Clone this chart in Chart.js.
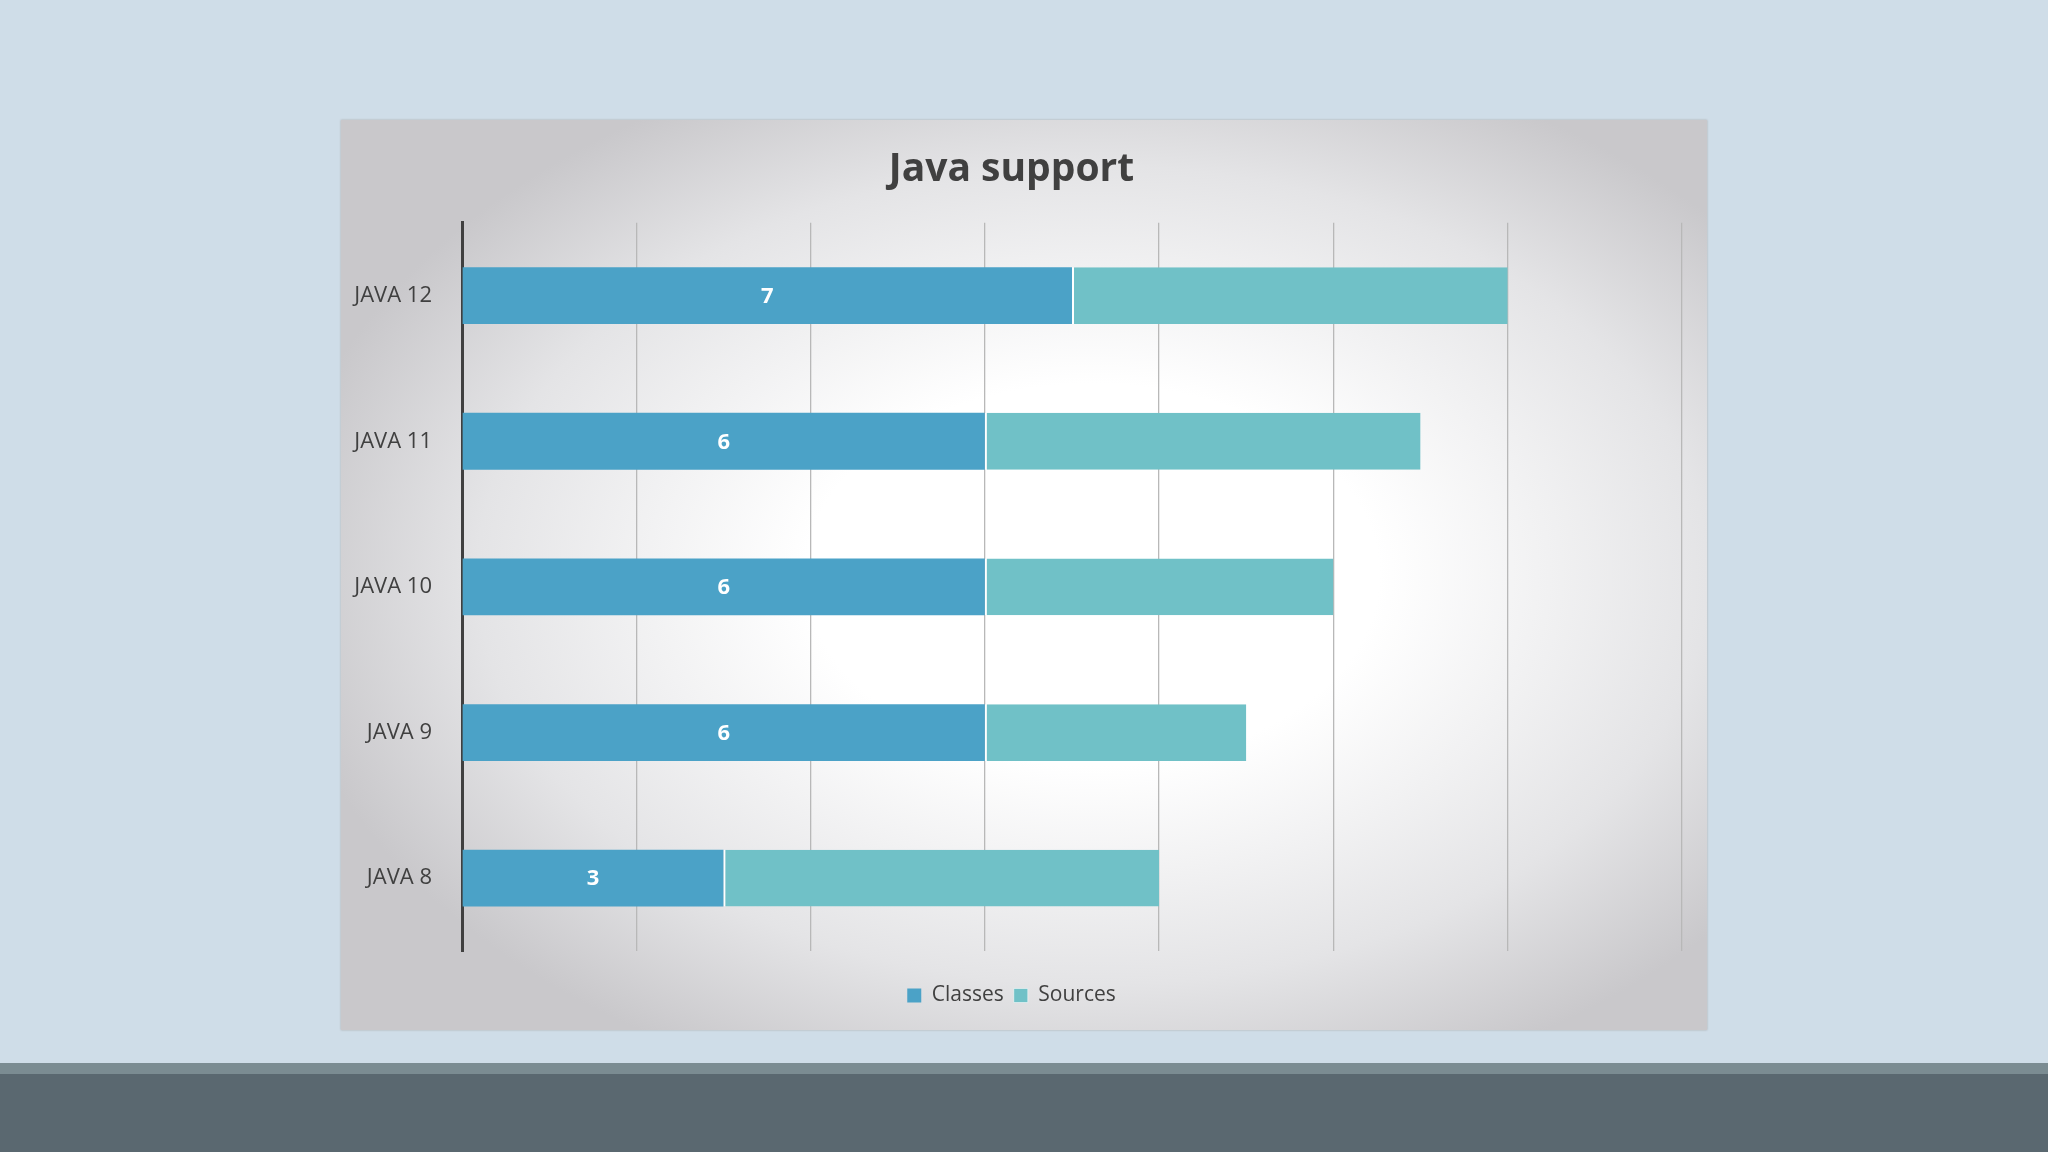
<!DOCTYPE html>
<html><head><meta charset="utf-8">
<script src="https://cdn.jsdelivr.net/npm/chart.js@4"></script>
<style>
html,body{margin:0;padding:0;width:2048px;height:1152px;overflow:hidden;background:#cfdde8;font-family:"Open Sans",sans-serif}
#panel{position:absolute;left:341px;top:120px;width:1366px;height:910px;
background:radial-gradient(ellipse 60% 60% at 55% 50%,#ffffff 35%,#e4e4e6 75%,#c9c8cb 100%);box-shadow:0 0 2px #aaa}
#c{position:absolute;left:0;top:0}
#stripe{position:absolute;left:0;top:1063px;width:2048px;height:11px;background:#7b8c92}
#dark{position:absolute;left:0;top:1074px;width:2048px;height:78px;background:#5a6870}
</style></head><body>
<div id="panel"><canvas id="c" width="1398" height="910"></canvas></div>
<div id="stripe"></div><div id="dark"></div>
<script>
const categories=["JAVA 12","JAVA 11","JAVA 10","JAVA 9","JAVA 8"];
const classes=[7,6,6,6,3];
const sources=[5,5,4,3,5];
const seriesNames=["Classes","Sources"];
const labelPlugin={id:'lbl',afterDatasetsDraw(chart){
 const ctx=chart.ctx;const meta=chart.getDatasetMeta(0);
 ctx.save();ctx.fillStyle='#fff';ctx.font='bold 22px "Open Sans"';ctx.textAlign='center';ctx.textBaseline='middle';
 meta.data.forEach((b,i)=>{ctx.fillText(String(classes[i]),(b.x+b.base)/2,b.y+1);});
 ctx.restore();}};
new Chart(document.getElementById('c'),{
 type:'bar',
 data:{labels:categories,datasets:[
  {label:seriesNames[0],data:classes,backgroundColor:'#4ba2c7',borderWidth:0},
  {label:seriesNames[1],data:sources,backgroundColor:'#70c1c7',borderColor:'#ffffff',borderWidth:{left:2},borderSkipped:false}]},
 options:{indexAxis:'y',responsive:false,animation:false,
  layout:{padding:{left:0,right:57,top:0,bottom:14}},
  plugins:{title:{display:true,text:'Java support',color:'#404040',font:{family:'"Open Sans"',size:39,weight:'bold'},padding:{top:26,bottom:30}},
   legend:{position:'bottom',labels:{color:'#404040',font:{family:'"Open Sans"',size:21},boxWidth:14,boxHeight:14,padding:10}},
   tooltip:{enabled:false}},
  datasets:{bar:{barPercentage:0.39,categoryPercentage:1}},
  scales:{
   x:{stacked:true,min:0,max:14,ticks:{stepSize:2,display:false},grid:{color:'#b8b8b8',lineWidth:1.3,drawTicks:false},border:{display:false},afterFit(s){s.height=24;}},
   y:{stacked:true,grid:{display:false},border:{color:'#404040',width:3},ticks:{color:'#404040',padding:22,font:{family:'"Open Sans"',size:22}},afterFit(s){s.width=121;}}
  }},
 plugins:[labelPlugin]});
</script></body></html>
